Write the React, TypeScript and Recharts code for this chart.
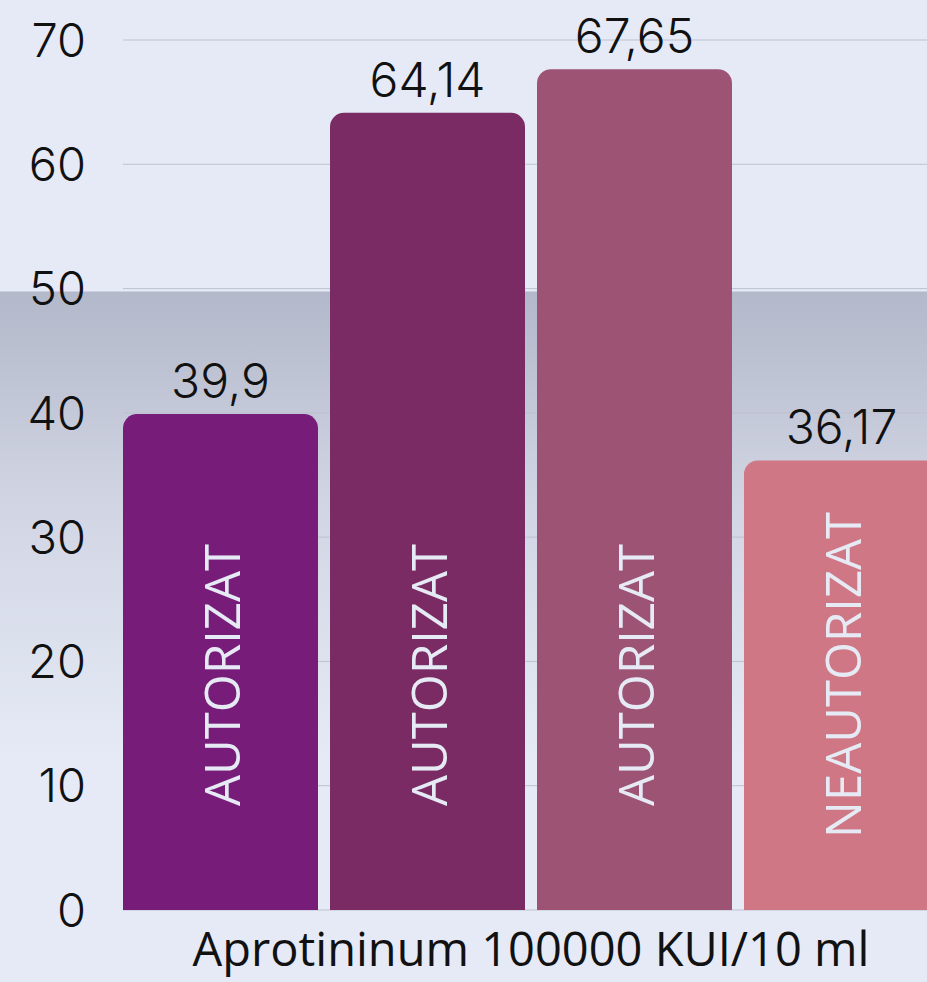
import { BarChart, Bar, XAxis, YAxis, CartesianGrid, LabelList } from 'recharts';

const category = 'Aprotininum 100000 KUI/10 ml';
const seriesKeys = ['p1', 'p2', 'p3', 'p4'];
const values = [39.9, 64.14, 67.65, 36.17];
const statuses = ['AUTORIZAT', 'AUTORIZAT', 'AUTORIZAT', 'NEAUTORIZAT'];
const colors = ['#771C79', '#7A2B63', '#9D5474', '#CF7784'];
const yTicks = [0, 10, 20, 30, 40, 50, 60, 70];

const row: Record<string, string | number> = { name: category };
seriesKeys.forEach((k, i) => {
  row[k] = values[i];
});
const data = [row];

const fmt = (v: any) => String(v).replace('.', ',');

// vertical status text inside each bar
const statusLabel = (text: string) => (props: any) => {
  const { x, y, width, height } = props;
  const cx = Number(x) + Number(width) / 2;
  const cy = Number(y) + Number(height) - 235;
  return (
    <text
      x={cx}
      y={cy}
      transform={`rotate(-90, ${cx}, ${cy})`}
      textAnchor="middle"
      dominantBaseline="central"
      fill="#E6EAF4"
      fontSize={49}
      fontFamily="'Open Sans', sans-serif"
    >
      {text}
    </text>
  );
};

export default function App() {
  return (
    <div
      style={{
        position: 'absolute',
        left: 0,
        top: 0,
        width: 927,
        height: 982,
        overflow: 'hidden',
        background:
          'linear-gradient(to bottom, #E5EAF6 0px, #E5EAF6 291px, #B3B8CA 292px, #D3D7E5 520px, #E5EAF6 760px, #E5EAF6 982px)',
      }}
    >
      <BarChart
        width={945}
        height={982}
        data={data}
        margin={{ top: 40, right: 6, bottom: 0, left: 0 }}
        barCategoryGap={0}
        barGap={12}
      >
        <CartesianGrid vertical={false} stroke="#BEC2CE" />
        <XAxis
          dataKey="name"
          axisLine={false}
          tickLine={false}
          height={72}
          tickMargin={17}
          tick={{ fill: '#111', fontSize: 47, fontFamily: "'Open Sans', sans-serif" }}
        />
        <YAxis
          domain={[0, 70]}
          ticks={yTicks}
          axisLine={false}
          tickLine={false}
          width={123}
          tickMargin={31}
          tick={{ fill: '#111', fontSize: 47, fontFamily: 'Inter, sans-serif', fontWeight: 300 }}
        />
        {seriesKeys.map((k, i) => (
          <Bar key={k} dataKey={k} fill={colors[i]} radius={[14, 14, 0, 0]} isAnimationActive={false}>
            <LabelList
              dataKey={k}
              position="top"
              offset={16}
              formatter={fmt}
              fill="#111"
              fontSize={48}
              fontWeight={300}
              fontFamily="Inter, sans-serif"
            />
            <LabelList dataKey={k} content={statusLabel(statuses[i])} />
          </Bar>
        ))}
      </BarChart>
    </div>
  );
}
